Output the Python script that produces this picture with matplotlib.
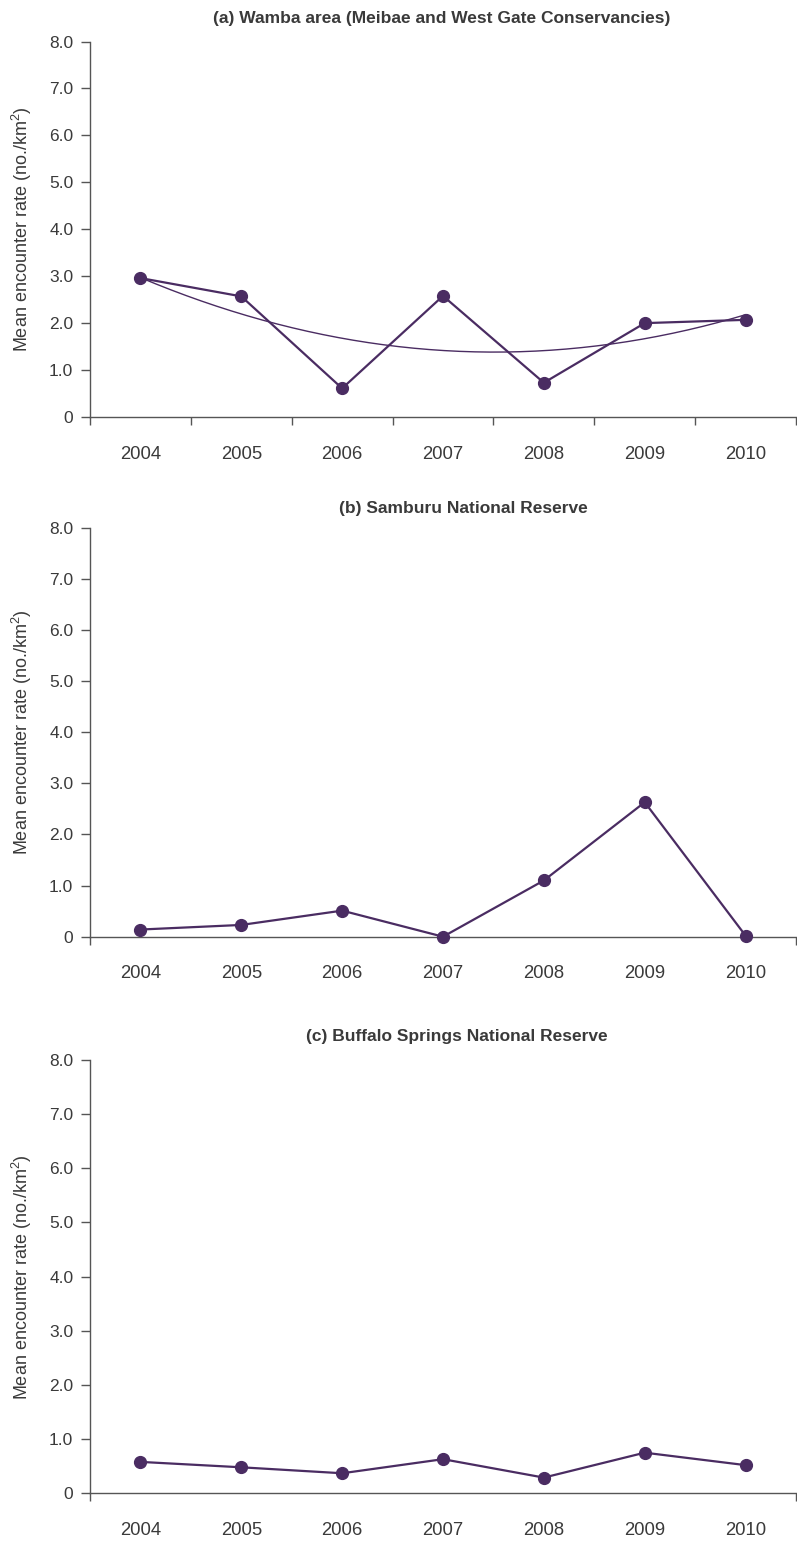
import numpy as np
import matplotlib
matplotlib.use("Agg")
import matplotlib.pyplot as plt

plt.rcParams['font.family'] = ['Liberation Sans', 'DejaVu Sans']
plt.rcParams['mathtext.fontset'] = 'custom'
plt.rcParams['mathtext.rm'] = 'Liberation Sans'
plt.rcParams['mathtext.it'] = 'Liberation Sans'

years = ['2004', '2005', '2006', '2007', '2008', '2009', '2010']
wamba = [2.96, 2.57, 0.61, 2.58, 0.73, 2.00, 2.07]
samburu = [0.14, 0.23, 0.51, 0.00, 1.10, 2.63, 0.02]
buffalo = [0.58, 0.48, 0.37, 0.63, 0.29, 0.75, 0.52]
titles = ['(a) Wamba area (Meibae and West Gate Conservancies)',
          '(b) Samburu National Reserve',
          '(c) Buffalo Springs National Reserve']
yticks = [0, 1, 2, 3, 4, 5, 6, 7, 8]
yticklabels = ['0', '1.0', '2.0', '3.0', '4.0', '5.0', '6.0', '7.0', '8.0']

W, H = 797, 1541
fig = plt.figure(figsize=(W / 100, H / 100), dpi=100)

line_c = '#4A2C62'
axis_c = '#555555'
text_c = '#3a3a3a'

# (top_px, bottom_px, title_center_x, title_y)
panels = [(41.5, 417, 442, 19, wamba, True, True),
          (527.7, 936.7, 463, 508, samburu, False, False),
          (1060, 1493.3, 457, 1036, buffalo, False, False)]

for i, (top, bot, tx, ty, vals, inner_ticks, trend) in enumerate(panels):
    left, right = 90, 796
    ax = fig.add_axes([left / W, 1 - bot / H, (right - left) / W, (bot - top) / H])
    x = np.arange(len(years))
    if trend:
        coef = np.polyfit(x, vals, 2)
        xs = np.linspace(0, len(years) - 1, 200)
        ax.plot(xs, np.polyval(coef, xs), color=line_c, lw=1.0, zorder=2)
    ax.plot(x, vals, color=line_c, lw=1.6, marker='o', markersize=8.5,
            zorder=3, clip_on=False)
    ax.set_xlim(-0.5, len(years) - 0.5)
    ax.set_ylim(0, 8)
    for s in ['top', 'right']:
        ax.spines[s].set_visible(False)
    for s in ['left', 'bottom']:
        ax.spines[s].set_color(axis_c)
        ax.spines[s].set_linewidth(1.0)
    ax.set_yticks(yticks)
    ax.set_yticklabels(yticklabels)
    ax.tick_params(axis='y', direction='out', length=6.5, width=1.0,
                   color=axis_c, labelcolor=text_c, labelsize=12.5, pad=5.5)
    if inner_ticks:
        bounds = np.arange(-0.5, len(years), 1.0)
    else:
        bounds = [-0.5, len(years) - 0.5]
    ax.set_xticks(bounds)
    ax.set_xticklabels([''] * len(bounds))
    ax.set_xticks(x, minor=True)
    ax.set_xticklabels(years, minor=True)
    ax.tick_params(axis='x', which='major', direction='out', length=6,
                   width=1.0, color=axis_c)
    ax.tick_params(axis='x', which='minor', length=0, labelcolor=text_c,
                   labelsize=13.3, pad=20.6)
    for t in ax.xaxis.get_major_ticks():
        t.tick1line.set_clip_on(False)
    fig.text(tx / W, 1 - ty / H, titles[i], ha='center', va='center',
             fontsize=12.5, fontweight='bold', color=text_c)
    fig.text(22 / W, 1 - ((top + bot) / 2) / H,
             'Mean encounter rate (no./km$^2$)', rotation=90,
             ha='center', va='center', fontsize=13, color=text_c)

fig.savefig('out.png', dpi=100, facecolor='white')
